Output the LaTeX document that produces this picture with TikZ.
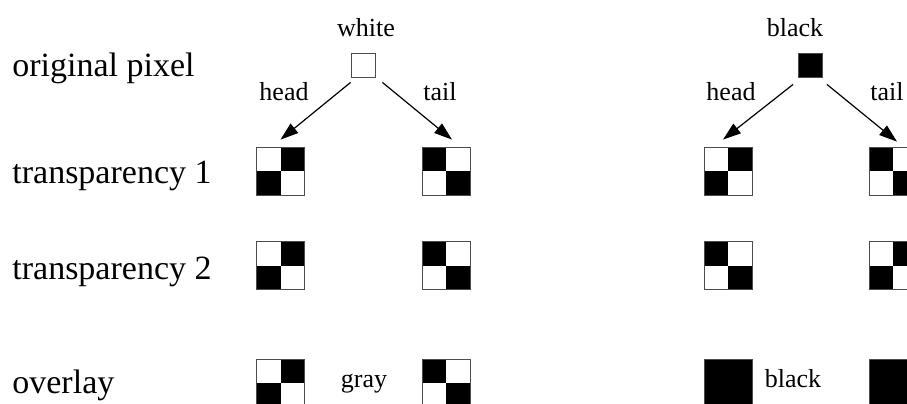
\documentclass[tikz,border=0pt]{standalone}
\usepackage{fontspec}
\setmainfont{Liberation Serif}
\usepackage{tikz}
\usetikzlibrary{arrows.meta}

\tikzset{
  cell/.style={draw=black!70, line width=0.4pt, minimum size=24pt, inner sep=0pt},
  pix/.style={draw=black!70, line width=0.4pt, minimum size=12pt, inner sep=0pt},
  diagA/.style={path picture={
      \fill (path picture bounding box.center) rectangle (path picture bounding box.north east);
      \fill (path picture bounding box.center) rectangle (path picture bounding box.south west);}},
  diagB/.style={path picture={
      \fill (path picture bounding box.center) rectangle (path picture bounding box.north west);
      \fill (path picture bounding box.center) rectangle (path picture bounding box.south east);}},
  solid/.style={fill=black},
  rowlabel/.style={anchor=base west, inner sep=0pt, font=\fontsize{17}{20}\selectfont},
  coin/.style={anchor=base, inner sep=0pt, font=\fontsize{13}{16}\selectfont},
  arr/.style={line width=0.6pt, -{Triangle[length=9pt,width=6pt]}}
}

\begin{document}
\begin{tikzpicture}[x=0.5pt,y=-0.5pt]
				\useasboundingbox (0,0) rectangle (907,403);
				\clip (0,0) rectangle (907,403);
				
				% row labels
				\node[rowlabel] (lorig) at (12,76) {original pixel};
				\node[rowlabel] (lt1) at (12,183) {transparency 1};
				\node[rowlabel] (lt2) at (12,279) {transparency 2};
				\node[rowlabel] (lov) at (12,393) {overlay};
				
				% original pixels
				\node[pix] (w0) at (363,65) {};
				\node[pix,solid] (b0) at (810.5,65) {};
				\node[coin] (lw0) at (366,36) {white};
				\node[coin] (lb0) at (795,36) {black};
				
				% transparencies and overlays
				\foreach \n/\x/\y/\s in
				{w1/280.5/171/diagA, w2/446/171/diagB, b1/728/171/diagA, b2/893/171/diagB,
				 w3/280.5/265.5/diagA, w4/446/265.5/diagB, b3/728/265.5/diagB, b4/893/265.5/diagA,
				 w5/280.5/383/diagA, w6/446/383/diagB, b5/728/383/solid, b6/893/383/solid}{
					\node[cell,\s] (\n) at (\x,\y) {};
				}
				
				% coin labels
				\node[coin] (hw) at (284,100) {head};
				\node[coin] (tw) at (440,100) {tail};
				\node[coin] (hb) at (731,100) {head};
				\node[coin] (tb) at (887,100) {tail};
				\node[coin] (gw) at (364,387) {gray};
				\node[coin] (gb) at (793,387) {black};
				
				% arrows
				\foreach \a/\b/\ax/\ay/\bx/\by in
				{w0.south west/w1.north/0/-2.5/0/3.5, w0.south east/w2.north/3.5/-2.5/3/3.5,
				 b0.south west/b1.north/-2.5/-3.5/-2.5/3.5, b0.south east/b2.north/2/-3.5/2/2.5}{
					\draw[arr] ([shift={(\ax pt,\ay pt)}]\a) -- ([shift={(\bx pt,\by pt)}]\b);
				}
			\end{tikzpicture}
\end{document}
